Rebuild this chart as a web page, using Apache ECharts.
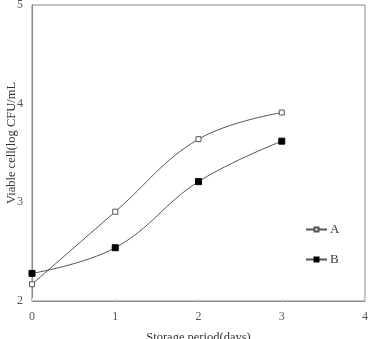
<!DOCTYPE html>
<html lang="en">
<head>
    <meta charset="UTF-8">
    <title>Viable cell</title>
    <script src="https://cdn.jsdelivr.net/npm/echarts@6.0.0/dist/echarts.min.js"></script>
    <style>
        html, body { margin: 0; padding: 0; background: #fff; }
        #chart { width: 369px; height: 339px; }
    </style>
</head>
<body>
    <div id="chart"></div>
    <script>
        var days = [0, 1, 2, 3];
        var seriesA = [2.17, 2.905, 3.64, 3.91];
        var seriesB = [2.28, 2.54, 3.21, 3.62];
        var yTitle = 'Viable cell(log CFU/mL';
        var xTitle = 'Storage period(days)';

        var serif = '"Liberation Serif", "DejaVu Serif", serif';

        function pairs(xs, ys) {
            return xs.map(function (x, i) { return [x, ys[i]]; });
        }

        var chart = echarts.init(document.getElementById('chart'));
        chart.setOption({
            animation: false,
            grid: {
                left: 32, right: 4, top: 5, bottom: 38,
                outerBoundsMode: 'none',
                show: true, borderColor: '#8a8a8a', borderWidth: 1
            },
            // y title placed by hand, a bit above the plot's middle as in the original
            graphic: [{
                type: 'text',
                x: 12,
                y: 143,
                rotation: Math.PI / 2,
                style: {
                    text: yTitle,
                    font: '12.5px ' + serif,
                    fill: '#333',
                    align: 'center',
                    verticalAlign: 'middle'
                }
            }],
            legend: {
                orient: 'vertical',
                left: 300,
                top: 218,
                itemGap: 17,
                itemWidth: 21,
                itemHeight: 5,
                textStyle: { fontFamily: serif, fontSize: 13, color: '#333', padding: [0, 0, 0, -2] },
                data: ['A', 'B']
            },
            xAxis: {
                type: 'value',
                min: 0,
                max: 4,
                interval: 1,
                name: xTitle,
                nameLocation: 'middle',
                nameGap: 30,
                nameTextStyle: { fontFamily: serif, fontSize: 12.5, color: '#333' },
                axisLine: { lineStyle: { color: '#8a8a8a' } },
                axisTick: { inside: true, length: 3, lineStyle: { color: '#ddd' } },
                axisLabel: { fontFamily: serif, fontSize: 12, color: '#555', margin: 10 },
                splitLine: { show: false }
            },
            yAxis: {
                type: 'value',
                min: 2,
                max: 5,
                interval: 1,
                axisLine: { lineStyle: { color: '#8a8a8a' } },
                axisTick: { show: false },
                axisLabel: { fontFamily: serif, fontSize: 12, color: '#555', margin: 9 },
                splitLine: { show: false }
            },
            series: [
                {
                    name: 'A',
                    type: 'line',
                    smooth: 0.4,
                    data: pairs(days, seriesA),
                    symbol: 'rect',
                    symbolSize: 5,
                    lineStyle: { color: '#555', width: 1 },
                    itemStyle: { color: '#fff', borderColor: '#555', borderWidth: 1 }
                },
                {
                    name: 'B',
                    type: 'line',
                    smooth: 0.4,
                    data: pairs(days, seriesB),
                    symbol: 'rect',
                    symbolSize: 6,
                    lineStyle: { color: '#555', width: 1 },
                    itemStyle: { color: '#000', borderColor: '#000', borderWidth: 1 }
                }
            ]
        });
    </script>
</body>
</html>
